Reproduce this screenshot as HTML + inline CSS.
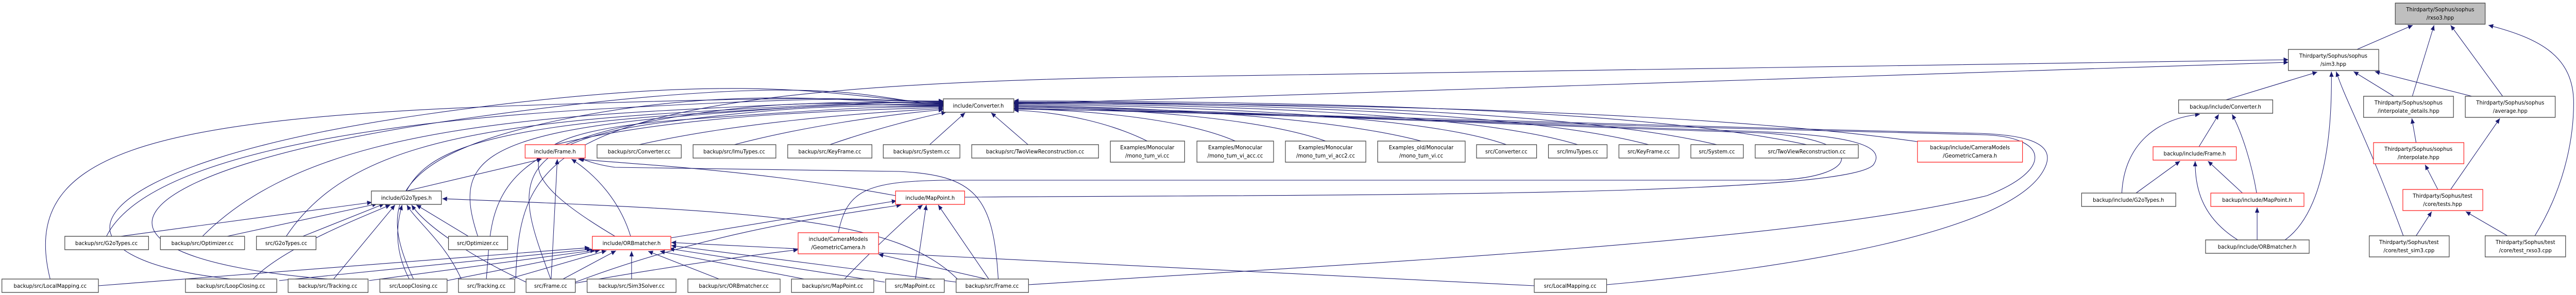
<!DOCTYPE html>
<html><head><meta charset="utf-8"><style>
html,body{margin:0;padding:0;background:#fff;width:100%;height:100%;overflow:hidden;}
svg{display:block;width:100vw;height:100vh}
text{font-family:"DejaVu Sans","Liberation Sans",sans-serif;font-size:11px;fill:#000;}
.n rect{fill:#fff;stroke:#404040;stroke-width:1.3}
.r rect{fill:#fff;stroke:#ff2020;stroke-width:1.3}
.g rect{fill:#bfbfbf;stroke:#404040;stroke-width:1.3}
.e path{fill:none;stroke:#191970;stroke-width:1.1;marker-end:url(#a)}
</style></head><body>
<svg viewBox="0 0 5445 573" preserveAspectRatio="none" xmlns="http://www.w3.org/2000/svg" overflow="hidden">
<defs><marker id="a" markerUnits="userSpaceOnUse" markerWidth="11" markerHeight="9" refX="10" refY="4.5" orient="auto"><path d="M0,0 L10,4.5 L0,9 z" fill="#191970"/></marker></defs>
<g class="e">
<path d="M106,542 C40,300 300,230 1100,205 S1800,198 1994,196"/>
<path d="M225,459 C300,320 700,240 1300,210 S1800,199 1994,197"/>
<path d="M488,542 C60,500 150,320 900,222 S1800,200 1994,198"/>
<path d="M428,459 C600,300 900,240 1400,215 S1850,201 1994,199"/>
<path d="M605,459 C720,300 950,245 1450,218 S1850,202 1994,200"/>
<path d="M693,542 C120,500 200,330 1000,228 S1850,203 1994,201"/>
<path d="M874,542 C800,400 820,300 1200,230 S1850,204 1994,202"/>
<path d="M859,371 C900,300 1000,250 1450,222 S1850,205 1994,203"/>
<path d="M1010,459 C960,320 1000,260 1450,225 S1850,206 1994,204"/>
<path d="M1028,542 C1040,420 1020,300 1350,240 S1850,207 1994,205"/>
<path d="M1164,542 C1100,380 1050,280 1400,238 S1850,208 1994,206"/>
<path d="M1300,459 C1100,350 1020,260 1450,232 S1850,209 1994,207"/>
<path d="M1173,281 C1400,230 1700,215 1994,209"/>
<path d="M1351,281 C1550,240 1800,220 1994,211"/>
<path d="M1552,281 C1700,245 1880,222 1994,213"/>
<path d="M1754,281 C1850,250 1960,225 2000,218"/>
<path d="M1965,281 L2040,219"/>
<path d="M2173,281 L2095,219"/>
<path d="M2425,274 C2350,240 2250,218 2143,214"/>
<path d="M2611,274 C2500,230 2300,214 2143,211"/>
<path d="M2802,274 C2650,225 2350,210 2143,208"/>
<path d="M3004,274 C2800,225 2400,207 2143,205"/>
<path d="M3184,281 C3000,220 2450,205 2143,203"/>
<path d="M3335,281 C3100,215 2500,203 2143,201"/>
<path d="M3485,281 C3200,212 2550,201 2143,199"/>
<path d="M3629,281 C3300,210 2600,199 2143,198"/>
<path d="M3819,281 C3450,208 2700,197 2143,196"/>
<path d="M4060,276 C3600,215 2800,200 2143,200"/>
<path d="M2039,383 C2700,378 3900,385 3960,320 C3990,280 3900,262 3700,255 C3000,235 2500,212 2143,206"/>
<path d="M1772,452 C1790,370 1830,352 2000,350 L3750,350 C3940,345 3950,270 3720,258 C3050,238 2500,214 2143,208"/>
<path d="M2174,553 C2900,510 3800,470 4200,380 C4340,330 4330,268 4200,262 C3500,248 2600,218 2143,210"/>
<path d="M3396,553 C3800,520 4250,450 4320,330 C4350,280 4290,262 4180,259 C3500,245 2600,216 2143,212"/>
<path d="M2143,202 L4837,121"/>
<path d="M1090,542 C1100,300 1150,170 2400,150 C3500,130 4300,116 4837,116"/>
<path d="M4705,194 L4898,140"/>
<path d="M4830,466 C4900,420 4930,300 4928,139"/>
<path d="M5080,458 C5000,260 4960,200 4938,139"/>
<path d="M5060,187 L4975,139"/>
<path d="M5225,187 L5020,139"/>
<path d="M4982,96 L5100,49"/>
<path d="M5099,187 L5145,49"/>
<path d="M5290,187 L5180,49"/>
<path d="M5358,458 C5430,350 5440,250 5440,200 C5440,110 5370,75 5260,49"/>
<path d="M5107,277 L5098,230"/>
<path d="M5153,368 L5126,320"/>
<path d="M5180,368 L5284,230"/>
<path d="M5107,458 L5140,411"/>
<path d="M5300,458 L5212,411"/>
<path d="M4485,375 C4490,280 4560,230 4650,222"/>
<path d="M4515,375 L4608,313"/>
<path d="M4740,375 L4667,313"/>
<path d="M4770,375 C4760,320 4740,260 4718,222"/>
<path d="M4648,285 L4690,222"/>
<path d="M4730,466 C4650,420 4640,360 4640,313"/>
<path d="M4771,466 L4771,403"/>
<path d="M859,371 L1145,309"/>
<path d="M1165,542 L1178,309"/>
<path d="M1333,459 C1310,390 1260,340 1208,309"/>
<path d="M1893,380 C1600,330 1350,320 1222,309"/>
<path d="M2110,542 C2100,380 2060,340 1900,333 L1300,325 C1260,320 1240,312 1225,307"/>
<path d="M255,459 L786,393"/>
<path d="M480,459 L797,396"/>
<path d="M640,459 L812,396"/>
<path d="M990,459 L880,398"/>
<path d="M535,542 C600,480 770,420 825,398"/>
<path d="M705,542 L835,398"/>
<path d="M865,542 C830,480 840,430 850,398"/>
<path d="M975,542 C940,470 880,430 860,398"/>
<path d="M1112,548 C1000,500 900,440 870,398"/>
<path d="M2030,548 C1900,420 1600,410 935,386"/>
<path d="M208,555 L1246,481"/>
<path d="M590,545 L1250,484"/>
<path d="M780,545 L1258,486"/>
<path d="M945,545 L1268,486"/>
<path d="M1075,542 L1282,487"/>
<path d="M1190,542 L1302,487"/>
<path d="M1335,542 L1335,488"/>
<path d="M1520,542 L1370,488"/>
<path d="M1700,542 L1395,488"/>
<path d="M1870,548 L1415,483"/>
<path d="M2022,548 L1419,477"/>
<path d="M3243,555 L1419,471"/>
<path d="M1418,462 L1895,390"/>
<path d="M1216,548 C1500,450 1750,420 1905,398"/>
<path d="M1785,542 C1850,480 1920,420 1950,398"/>
<path d="M1935,542 L1958,398"/>
<path d="M2090,542 L1983,398"/>
<path d="M2085,542 L1857,494"/>
<path d="M1216,550 C1400,520 1550,500 1687,485"/>
</g>
<g class="g"><rect x="5063" y="6" width="190" height="41"/><text x="5158" y="22" text-anchor="middle">Thirdparty/Sophus/sophus</text><text x="5158" y="38" text-anchor="middle">/rxso3.hpp</text></g>
<g class="n"><rect x="4837" y="96" width="191" height="41"/><text x="4932" y="112" text-anchor="middle">Thirdparty/Sophus/sophus</text><text x="4932" y="128" text-anchor="middle">/sim3.hpp</text></g>
<g class="n"><rect x="1994" y="192" width="149" height="26"/><text x="2068" y="209" text-anchor="middle">include/Converter.h</text></g>
<g class="n"><rect x="4605" y="194" width="199" height="26"/><text x="4704" y="211" text-anchor="middle">backup/include/Converter.h</text></g>
<g class="n"><rect x="4996" y="187" width="190" height="41"/><text x="5091" y="203" text-anchor="middle">Thirdparty/Sophus/sophus</text><text x="5091" y="219" text-anchor="middle">/interpolate_details.hpp</text></g>
<g class="n"><rect x="5211" y="187" width="190" height="41"/><text x="5306" y="203" text-anchor="middle">Thirdparty/Sophus/sophus</text><text x="5306" y="219" text-anchor="middle">/average.hpp</text></g>
<g class="r"><rect x="1110" y="281" width="127" height="26"/><text x="1173" y="298" text-anchor="middle">include/Frame.h</text></g>
<g class="n"><rect x="1262" y="281" width="178" height="26"/><text x="1351" y="298" text-anchor="middle">backup/src/Converter.cc</text></g>
<g class="n"><rect x="1465" y="281" width="175" height="26"/><text x="1552" y="298" text-anchor="middle">backup/src/ImuTypes.cc</text></g>
<g class="n"><rect x="1665" y="281" width="178" height="26"/><text x="1754" y="298" text-anchor="middle">backup/src/KeyFrame.cc</text></g>
<g class="n"><rect x="1867" y="281" width="162" height="26"/><text x="1948" y="298" text-anchor="middle">backup/src/System.cc</text></g>
<g class="n"><rect x="2054" y="281" width="268" height="26"/><text x="2188" y="298" text-anchor="middle">backup/src/TwoViewReconstruction.cc</text></g>
<g class="n"><rect x="2347" y="274" width="157" height="41"/><text x="2425" y="290" text-anchor="middle">Examples/Monocular</text><text x="2425" y="306" text-anchor="middle">/mono_tum_vi.cc</text></g>
<g class="n"><rect x="2530" y="274" width="162" height="41"/><text x="2611" y="290" text-anchor="middle">Examples/Monocular</text><text x="2611" y="306" text-anchor="middle">/mono_tum_vi_acc.cc</text></g>
<g class="n"><rect x="2717" y="274" width="170" height="41"/><text x="2802" y="290" text-anchor="middle">Examples/Monocular</text><text x="2802" y="306" text-anchor="middle">/mono_tum_vi_acc2.cc</text></g>
<g class="n"><rect x="2912" y="274" width="185" height="41"/><text x="3004" y="290" text-anchor="middle">Examples_old/Monocular</text><text x="3004" y="306" text-anchor="middle">/mono_tum_vi.cc</text></g>
<g class="n"><rect x="3121" y="281" width="127" height="26"/><text x="3184" y="298" text-anchor="middle">src/Converter.cc</text></g>
<g class="n"><rect x="3273" y="281" width="124" height="26"/><text x="3335" y="298" text-anchor="middle">src/ImuTypes.cc</text></g>
<g class="n"><rect x="3422" y="281" width="127" height="26"/><text x="3485" y="298" text-anchor="middle">src/KeyFrame.cc</text></g>
<g class="n"><rect x="3574" y="281" width="111" height="26"/><text x="3629" y="298" text-anchor="middle">src/System.cc</text></g>
<g class="n"><rect x="3710" y="281" width="218" height="26"/><text x="3819" y="298" text-anchor="middle">src/TwoViewReconstruction.cc</text></g>
<g class="r"><rect x="4053" y="274" width="222" height="41"/><text x="4164" y="290" text-anchor="middle">backup/include/CameraModels</text><text x="4164" y="306" text-anchor="middle">/GeometricCamera.h</text></g>
<g class="r"><rect x="5017" y="277" width="191" height="41"/><text x="5112" y="293" text-anchor="middle">Thirdparty/Sophus/sophus</text><text x="5112" y="309" text-anchor="middle">/interpolate.hpp</text></g>
<g class="r"><rect x="4551" y="285" width="176" height="26"/><text x="4639" y="302" text-anchor="middle">backup/include/Frame.h</text></g>
<g class="n"><rect x="785" y="371" width="148" height="26"/><text x="859" y="388" text-anchor="middle">include/G2oTypes.h</text></g>
<g class="r"><rect x="1893" y="371" width="146" height="26"/><text x="1966" y="388" text-anchor="middle">include/MapPoint.h</text></g>
<g class="n"><rect x="4400" y="375" width="199" height="26"/><text x="4499" y="392" text-anchor="middle">backup/include/G2oTypes.h</text></g>
<g class="r"><rect x="4673" y="375" width="197" height="26"/><text x="4771" y="392" text-anchor="middle">backup/include/MapPoint.h</text></g>
<g class="r"><rect x="5079" y="368" width="169" height="41"/><text x="5163" y="384" text-anchor="middle">Thirdparty/Sophus/test</text><text x="5163" y="400" text-anchor="middle">/core/tests.hpp</text></g>
<g class="n"><rect x="137" y="459" width="177" height="26"/><text x="225" y="476" text-anchor="middle">backup/src/G2oTypes.cc</text></g>
<g class="n"><rect x="339" y="459" width="178" height="26"/><text x="428" y="476" text-anchor="middle">backup/src/Optimizer.cc</text></g>
<g class="n"><rect x="542" y="459" width="126" height="26"/><text x="605" y="476" text-anchor="middle">src/G2oTypes.cc</text></g>
<g class="n"><rect x="948" y="459" width="125" height="26"/><text x="1010" y="476" text-anchor="middle">src/Optimizer.cc</text></g>
<g class="r"><rect x="1252" y="459" width="166" height="26"/><text x="1335" y="476" text-anchor="middle">include/ORBmatcher.h</text></g>
<g class="r"><rect x="1687" y="452" width="170" height="41"/><text x="1772" y="468" text-anchor="middle">include/CameraModels</text><text x="1772" y="484" text-anchor="middle">/GeometricCamera.h</text></g>
<g class="n"><rect x="4662" y="466" width="219" height="26"/><text x="4771" y="483" text-anchor="middle">backup/include/ORBmatcher.h</text></g>
<g class="n"><rect x="5008" y="458" width="169" height="41"/><text x="5092" y="474" text-anchor="middle">Thirdparty/Sophus/test</text><text x="5092" y="490" text-anchor="middle">/core/test_sim3.cpp</text></g>
<g class="n"><rect x="5253" y="458" width="170" height="41"/><text x="5338" y="474" text-anchor="middle">Thirdparty/Sophus/test</text><text x="5338" y="490" text-anchor="middle">/core/test_rxso3.cpp</text></g>
<g class="n"><rect x="4" y="542" width="204" height="26"/><text x="106" y="559" text-anchor="middle">backup/src/LocalMapping.cc</text></g>
<g class="n"><rect x="392" y="542" width="193" height="26"/><text x="488" y="559" text-anchor="middle">backup/src/LoopClosing.cc</text></g>
<g class="n"><rect x="609" y="542" width="169" height="26"/><text x="693" y="559" text-anchor="middle">backup/src/Tracking.cc</text></g>
<g class="n"><rect x="803" y="542" width="142" height="26"/><text x="874" y="559" text-anchor="middle">src/LoopClosing.cc</text></g>
<g class="n"><rect x="969" y="542" width="119" height="26"/><text x="1028" y="559" text-anchor="middle">src/Tracking.cc</text></g>
<g class="n"><rect x="1112" y="542" width="104" height="26"/><text x="1164" y="559" text-anchor="middle">src/Frame.cc</text></g>
<g class="n"><rect x="1241" y="542" width="188" height="26"/><text x="1335" y="559" text-anchor="middle">backup/src/Sim3Solver.cc</text></g>
<g class="n"><rect x="1454" y="542" width="195" height="26"/><text x="1551" y="559" text-anchor="middle">backup/src/ORBmatcher.cc</text></g>
<g class="n"><rect x="1673" y="542" width="174" height="26"/><text x="1760" y="559" text-anchor="middle">backup/src/MapPoint.cc</text></g>
<g class="n"><rect x="1872" y="542" width="124" height="26"/><text x="1934" y="559" text-anchor="middle">src/MapPoint.cc</text></g>
<g class="n"><rect x="2021" y="542" width="153" height="26"/><text x="2097" y="559" text-anchor="middle">backup/src/Frame.cc</text></g>
<g class="n"><rect x="3243" y="542" width="153" height="26"/><text x="3319" y="559" text-anchor="middle">src/LocalMapping.cc</text></g>
</svg>
</body></html>
